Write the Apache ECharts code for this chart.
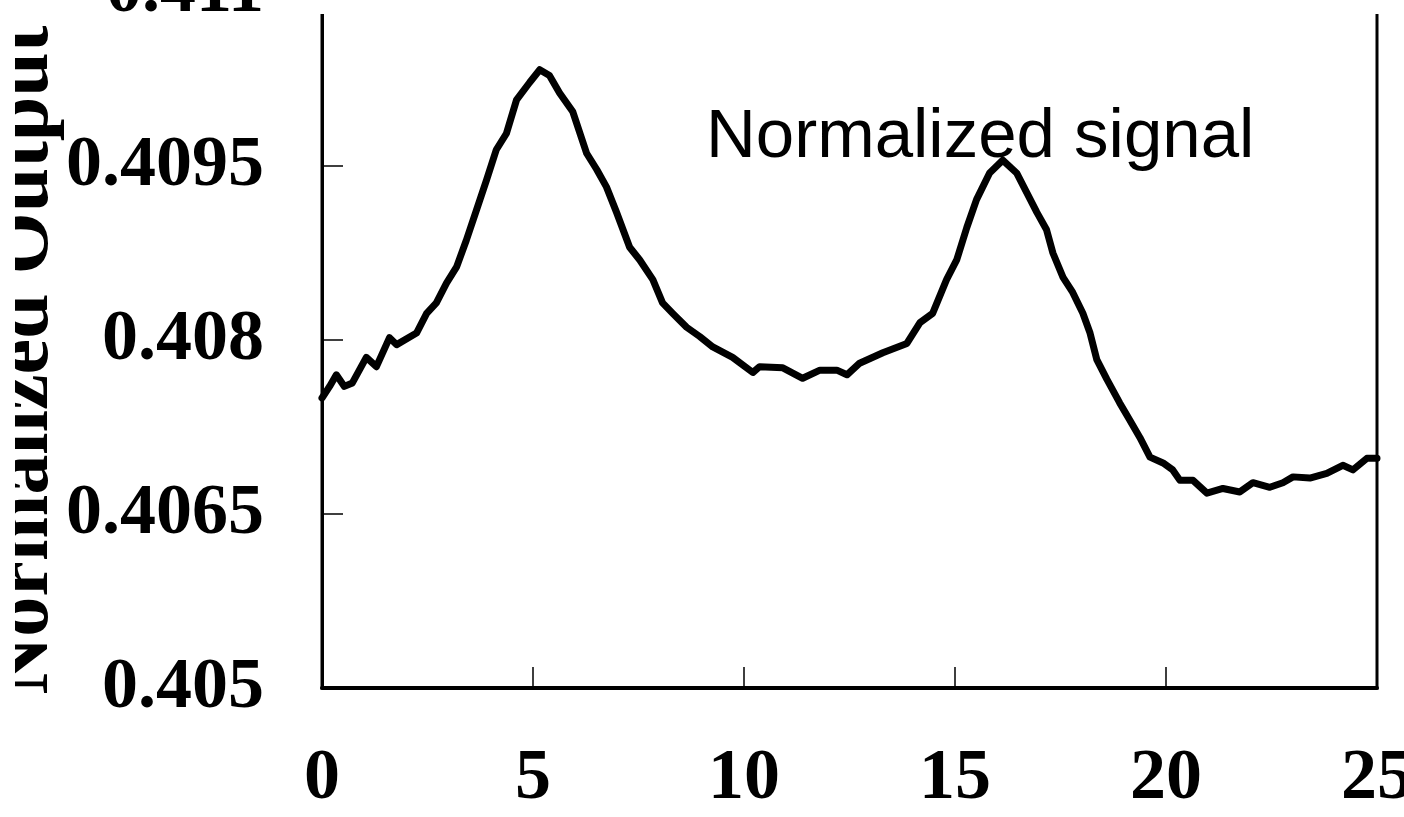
<!DOCTYPE html>
<html>
<head>
<meta charset="utf-8">
<script src="https://cdn.jsdelivr.net/npm/echarts@6/dist/echarts.min.js"></script>
<style>
  html, body { margin: 0; padding: 0; background: #fff; }
  #chart { width: 1404px; height: 817px; }
</style>
</head>
<body>
<div id="chart"></div>
<script>
// Position along x (0..25)
const xValues = [0, 0.18, 0.34, 0.53, 0.72, 1.05, 1.29, 1.60, 1.77, 2.24, 2.48, 2.71, 2.95, 3.19, 3.42, 3.66, 3.90, 4.13, 4.37, 4.61, 4.92, 5.16, 5.39, 5.63, 5.94, 6.27, 6.51, 6.74, 6.98, 7.29, 7.53, 7.84, 8.07, 8.31, 8.64, 8.95, 9.26, 9.73, 10.21, 10.37, 10.92, 11.39, 11.80, 12.20, 12.44, 12.74, 13.29, 13.86, 14.17, 14.47, 14.80, 15.04, 15.28, 15.51, 15.82, 16.13, 16.46, 16.70, 16.94, 17.17, 17.32, 17.56, 17.79, 18.03, 18.20, 18.36, 18.60, 18.90, 19.14, 19.38, 19.62, 19.93, 20.16, 20.33, 20.64, 20.97, 21.35, 21.75, 22.06, 22.46, 22.77, 23.01, 23.41, 23.81, 24.19, 24.43, 24.76, 25.00];
// Normalized output values
const signalValues = [0.40750, 0.40760, 0.40770, 0.40760, 0.40763, 0.40785, 0.40777, 0.40802, 0.40796, 0.40806, 0.40823, 0.40832, 0.40849, 0.40863, 0.40886, 0.40912, 0.40938, 0.40964, 0.40978, 0.41007, 0.41022, 0.41033, 0.41028, 0.41013, 0.40997, 0.40961, 0.40947, 0.40932, 0.40910, 0.40880, 0.40869, 0.40852, 0.40832, 0.40823, 0.40811, 0.40803, 0.40794, 0.40785, 0.40772, 0.40777, 0.40776, 0.40767, 0.40774, 0.40774, 0.40770, 0.40780, 0.40789, 0.40797, 0.40815, 0.40823, 0.40852, 0.40869, 0.40897, 0.40921, 0.40944, 0.40955, 0.40944, 0.40927, 0.40910, 0.40895, 0.40875, 0.40854, 0.40841, 0.40823, 0.40806, 0.40783, 0.40766, 0.40746, 0.40731, 0.40716, 0.40699, 0.40694, 0.40688, 0.40679, 0.40679, 0.40668, 0.40672, 0.40669, 0.40677, 0.40673, 0.40677, 0.40682, 0.40681, 0.40685, 0.40692, 0.40688, 0.40698, 0.40698];
const xTickLabels = ['0', '5', '10', '15', '20', '25'];
const yTickLabels = ['0.405', '0.4065', '0.408', '0.4095', '0.411'];
const seriesName = 'Normalized signal';
const yAxisTitle = 'Normalized Output';

const data = xValues.map((x, i) => [x, signalValues[i]]);
const serif = "'Liberation Serif', 'Times New Roman', serif";

const chart = echarts.init(document.getElementById('chart'), null, { renderer: 'canvas' });
chart.setOption({
  animation: false,
  backgroundColor: '#ffffff',
  title: {
    text: seriesName,
    left: 701,
    top: 98,
    textStyle: { fontFamily: "'Liberation Sans', Arial, sans-serif", fontSize: 69, fontWeight: 'normal', color: '#000' }
  },
  grid: {
    left: 322, right: 27, top: -8, bottom: 129,
    containLabel: false,
    outerBoundsMode: 'none',
    show: true, borderColor: '#000', borderWidth: 3, backgroundColor: 'transparent'
  },
  xAxis: {
    type: 'value', min: 0, max: 25, interval: 5,
    axisLine: { show: true, onZero: false, lineStyle: { color: '#000', width: 4 } },
    axisTick: { show: true, inside: true, length: 21, lineStyle: { color: '#000', width: 1.5 } },
    splitLine: { show: false },
    axisLabel: {
      margin: 55, showMinLabel: true, showMaxLabel: true, hideOverlap: false,
      fontFamily: serif, fontWeight: 'bold', fontSize: 72, color: '#000',
      formatter: (v, i) => xTickLabels[i]
    }
  },
  yAxis: {
    type: 'value', min: 0.405, max: 0.411, interval: 0.0015,
    name: yAxisTitle, nameLocation: 'middle', nameRotate: 90, nameGap: 256,
    nameMoveOverlap: false,
    nameTextStyle: { fontFamily: serif, fontWeight: 'bold', fontSize: 80, color: '#000', padding: [0, 40, 0, 0] },
    axisLine: { show: true, lineStyle: { color: '#000', width: 3 } },
    axisTick: { show: true, inside: true, length: 21, lineStyle: { color: '#000', width: 1.5 } },
    splitLine: { show: false },
    axisLabel: {
      margin: 58, showMinLabel: true, showMaxLabel: true, hideOverlap: false,
      fontFamily: serif, fontWeight: 'bold', fontSize: 72, color: '#000',
      formatter: (v, i) => yTickLabels[i]
    }
  },
  series: [{
    name: seriesName,
    type: 'line',
    data: data,
    showSymbol: false,
    symbol: 'none',
    clip: false,
    lineStyle: { color: '#000', width: 7, join: 'round', cap: 'round' }
  }],
  graphic: [
    { type: 'rect', z: 100, left: 300, top: 0, shape: { width: 1104, height: 14 }, style: { fill: '#fff' } },
    { type: 'rect', z: 100, left: 0, top: 0, shape: { width: 15, height: 817 }, style: { fill: '#fff' } }
  ]
});
</script>
</body>
</html>
